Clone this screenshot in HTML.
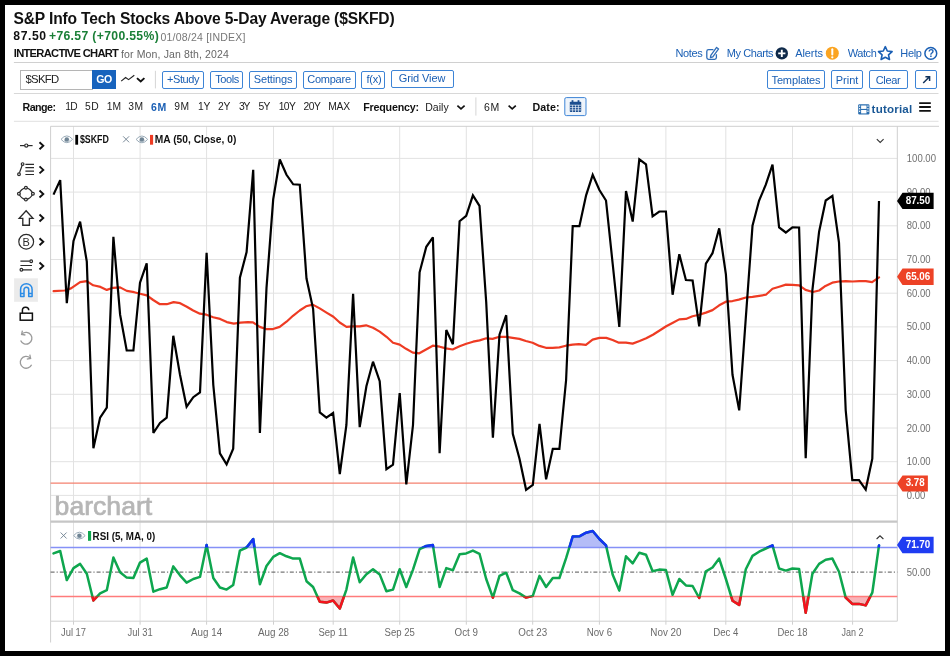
<!DOCTYPE html>
<html><head><meta charset="utf-8"><title>S&amp;P Info Tech Stocks Above 5-Day Average ($SKFD)</title>
<style>
html,body{margin:0;padding:0;background:#000;}
body{width:950px;height:656px;position:relative;overflow:hidden;font-family:"Liberation Sans",sans-serif;}
#page{position:absolute;left:5px;top:5px;width:940px;height:646px;background:#fff;}
.t{position:absolute;white-space:nowrap;line-height:1;will-change:transform;}
.btn{position:absolute;border:1px solid #3d84d6;border-radius:2px;background:#fff;}
#symbox{position:absolute;left:20.2px;top:70.2px;width:71px;height:17.6px;border:1px solid #b5b5b5;background:#fff;}
#gobtn{position:absolute;left:91.7px;top:70.2px;width:24.6px;height:18.8px;background:#1763bd;}
svg{position:absolute;left:0;top:0;will-change:transform;}
svg text{font-family:"Liberation Sans",sans-serif;}
</style></head>
<body>
<div id="page"></div>
<div id="symbox"></div><div id="gobtn"></div>
<div class="btn" style="left:161.6px;top:70.6px;width:40.4px;height:16.0px"></div>
<div class="btn" style="left:209.8px;top:70.6px;width:31.5px;height:16.0px"></div>
<div class="btn" style="left:249.4px;top:70.6px;width:45.6px;height:16.0px"></div>
<div class="btn" style="left:302.5px;top:70.6px;width:51.1px;height:16.0px"></div>
<div class="btn" style="left:361.3px;top:70.6px;width:22.1px;height:16.0px"></div>
<div class="btn" style="left:390.9px;top:70.1px;width:60.7px;height:16.2px"></div>
<div class="btn" style="left:766.8px;top:70.1px;width:56.6px;height:16.9px"></div>
<div class="btn" style="left:830.9px;top:70.1px;width:30.1px;height:16.9px"></div>
<div class="btn" style="left:868.5px;top:70.1px;width:37.7px;height:16.9px"></div>
<div class="btn" style="left:914.9px;top:70.1px;width:20.0px;height:16.9px"></div>
<svg width="950" height="656" viewBox="0 0 950 656">
<line x1="50.6" x2="897.3" y1="158.4" y2="158.4" stroke="#e2e2e2" stroke-width="1"/>
<line x1="50.6" x2="897.3" y1="192.1" y2="192.1" stroke="#e2e2e2" stroke-width="1"/>
<line x1="50.6" x2="897.3" y1="225.8" y2="225.8" stroke="#e2e2e2" stroke-width="1"/>
<line x1="50.6" x2="897.3" y1="259.5" y2="259.5" stroke="#e2e2e2" stroke-width="1"/>
<line x1="50.6" x2="897.3" y1="293.2" y2="293.2" stroke="#e2e2e2" stroke-width="1"/>
<line x1="50.6" x2="897.3" y1="326.9" y2="326.9" stroke="#e2e2e2" stroke-width="1"/>
<line x1="50.6" x2="897.3" y1="360.6" y2="360.6" stroke="#e2e2e2" stroke-width="1"/>
<line x1="50.6" x2="897.3" y1="394.3" y2="394.3" stroke="#e2e2e2" stroke-width="1"/>
<line x1="50.6" x2="897.3" y1="428.0" y2="428.0" stroke="#e2e2e2" stroke-width="1"/>
<line x1="50.6" x2="897.3" y1="461.7" y2="461.7" stroke="#e2e2e2" stroke-width="1"/>
<line x1="50.6" x2="897.3" y1="495.4" y2="495.4" stroke="#e2e2e2" stroke-width="1"/>
<line x1="73.5" x2="73.5" y1="126.3" y2="621.2" stroke="#e2e2e2" stroke-width="1"/>
<line x1="73.5" x2="73.5" y1="621.2" y2="624.7" stroke="#cfcfcf" stroke-width="1"/>
<line x1="140.1" x2="140.1" y1="126.3" y2="621.2" stroke="#e2e2e2" stroke-width="1"/>
<line x1="140.1" x2="140.1" y1="621.2" y2="624.7" stroke="#cfcfcf" stroke-width="1"/>
<line x1="206.6" x2="206.6" y1="126.3" y2="621.2" stroke="#e2e2e2" stroke-width="1"/>
<line x1="206.6" x2="206.6" y1="621.2" y2="624.7" stroke="#cfcfcf" stroke-width="1"/>
<line x1="273.5" x2="273.5" y1="126.3" y2="621.2" stroke="#e2e2e2" stroke-width="1"/>
<line x1="273.5" x2="273.5" y1="621.2" y2="624.7" stroke="#cfcfcf" stroke-width="1"/>
<line x1="333.2" x2="333.2" y1="126.3" y2="621.2" stroke="#e2e2e2" stroke-width="1"/>
<line x1="333.2" x2="333.2" y1="621.2" y2="624.7" stroke="#cfcfcf" stroke-width="1"/>
<line x1="399.7" x2="399.7" y1="126.3" y2="621.2" stroke="#e2e2e2" stroke-width="1"/>
<line x1="399.7" x2="399.7" y1="621.2" y2="624.7" stroke="#cfcfcf" stroke-width="1"/>
<line x1="466.3" x2="466.3" y1="126.3" y2="621.2" stroke="#e2e2e2" stroke-width="1"/>
<line x1="466.3" x2="466.3" y1="621.2" y2="624.7" stroke="#cfcfcf" stroke-width="1"/>
<line x1="532.7" x2="532.7" y1="126.3" y2="621.2" stroke="#e2e2e2" stroke-width="1"/>
<line x1="532.7" x2="532.7" y1="621.2" y2="624.7" stroke="#cfcfcf" stroke-width="1"/>
<line x1="599.4" x2="599.4" y1="126.3" y2="621.2" stroke="#e2e2e2" stroke-width="1"/>
<line x1="599.4" x2="599.4" y1="621.2" y2="624.7" stroke="#cfcfcf" stroke-width="1"/>
<line x1="665.9" x2="665.9" y1="126.3" y2="621.2" stroke="#e2e2e2" stroke-width="1"/>
<line x1="665.9" x2="665.9" y1="621.2" y2="624.7" stroke="#cfcfcf" stroke-width="1"/>
<line x1="725.8" x2="725.8" y1="126.3" y2="621.2" stroke="#e2e2e2" stroke-width="1"/>
<line x1="725.8" x2="725.8" y1="621.2" y2="624.7" stroke="#cfcfcf" stroke-width="1"/>
<line x1="792.5" x2="792.5" y1="126.3" y2="621.2" stroke="#e2e2e2" stroke-width="1"/>
<line x1="792.5" x2="792.5" y1="621.2" y2="624.7" stroke="#cfcfcf" stroke-width="1"/>
<line x1="852.6" x2="852.6" y1="126.3" y2="621.2" stroke="#e2e2e2" stroke-width="1"/>
<line x1="852.6" x2="852.6" y1="621.2" y2="624.7" stroke="#cfcfcf" stroke-width="1"/>
<line x1="50.6" x2="939" y1="126.3" y2="126.3" stroke="#cfcfcf" stroke-width="1"/>
<line x1="50.6" x2="50.6" y1="126.3" y2="642.5" stroke="#cfcfcf" stroke-width="1"/>
<line x1="897.3" x2="897.3" y1="126.3" y2="621.2" stroke="#cfcfcf" stroke-width="1"/>
<line x1="50.6" x2="897.3" y1="521.7" y2="521.7" stroke="#c6c6c6" stroke-width="2.2"/>
<line x1="50.6" x2="897.3" y1="621.2" y2="621.2" stroke="#cfcfcf" stroke-width="1"/>
<text x="54.6" y="514.6" font-size="25.5" font-weight="400" fill="#b6b6b6" stroke="#b6b6b6" stroke-width="0.7" textLength="97.6" lengthAdjust="spacingAndGlyphs">barchart</text>
<line x1="50.6" x2="897.3" y1="483.1" y2="483.1" stroke="#f4816f" stroke-width="1.3"/>
<polyline fill="none" stroke="#ee3b23" stroke-width="2.2" stroke-linejoin="round" stroke-linecap="round" points="53.6,291.2 64.7,290.5 71,288.4 80.1,282.1 86.8,281.05 93.2,285.3 100.5,286.9 106.8,289.9 113.2,287.8 120.1,287.4 126.8,290.9 134.2,292.2 140.1,293.7 146.8,295.4 153.2,300 159.9,304.2 166.8,304.2 173.6,302.1 180.1,303.2 186.8,306.7 193.2,310.5 199.9,313.7 206.4,314.7 213.2,317.3 220.1,318.9 226.8,322.1 233.8,323.6 240.5,322.7 247.9,322.1 253,322.3 259.7,326.9 266.05,329.05 273,329.05 279.7,326.9 286.5,321.7 293,315.8 299.7,310.5 306.05,306.3 312.8,304.6 319.7,308.4 326.5,312.6 333.4,316.8 339.7,322.5 346.5,326.9 353,326.3 359.7,326.3 366.05,325.3 373,327.8 379.7,331.6 386.5,336.8 393,342.7 399.7,344.6 406.05,348.8 412.8,352.6 419.3,353.3 426.05,349.5 432.8,345.7 439.7,346.7 445.9,348.4 452.6,349.5 459.6,346.3 466.3,343.8 473.05,341.7 479.6,340.4 486.3,338.3 492.6,338.9 499.4,336.8 505.9,336.8 512.6,337.9 519.4,338.9 525.9,341.05 532.6,342.7 539.4,345.9 545.9,347.8 552.6,347.8 559.4,347.4 565.9,345.7 572.6,344.6 578.9,344.2 585.9,344.8 592.6,339.6 599.4,337.9 606.3,337.9 612.6,340 618.9,342.7 625.9,342.7 632.6,343.6 639.6,341.05 646.2,338.3 652.9,334.7 659.6,330.5 666.2,326.3 672.9,322.7 679.2,319.4 685.9,318.9 692.5,316.2 699.2,314.7 705.9,312.6 712.5,310.1 719.2,305.3 725.9,301.7 732.5,301.05 738.8,299.6 745.9,297.5 752.5,296.8 759.2,295.8 765.9,294.7 772.5,288.8 779.2,286.7 785.9,284.6 792.5,284.8 799.2,285.3 805.5,289.9 812.9,292 819.2,290.5 825.5,285.9 832.3,282.7 838.8,281.5 845.8,281.05 852.5,281.5 859.5,281.05 865.8,281.05 872.1,282.1 879.05,277.3"/>
<polyline fill="none" stroke="#000" stroke-width="2.2" stroke-linejoin="miter" stroke-miterlimit="3" points="53.5,194.6 60.2,180.1 66.8,303.2 73.5,240.9 80.1,221.6 86.8,261.6 93.4,448.2 100.1,417.6 106.8,407.7 113.4,236.9 120.1,314.7 126.7,350.5 133.4,350.5 140.0,282.7 146.7,263.4 153.4,433.0 160.0,422.9 166.7,417.6 173.3,335.8 180.0,374.7 186.6,406.7 193.3,397.2 200.0,392.3 206.6,252.7 213.3,385.0 219.9,453.4 226.6,464.4 233.2,448.8 239.9,277.7 246.6,252.1 253.2,169.8 259.9,433.0 266.5,288.0 273.2,199.4 279.8,159.5 286.5,174.8 293.2,184.3 299.8,184.7 306.5,278.5 313.1,308.8 319.8,412.4 326.4,417.6 333.1,413.0 339.8,474.1 346.4,425.0 353.1,293.7 359.7,427.1 366.4,386.3 373.0,361.7 379.7,381.1 386.4,469.2 393.0,464.6 399.7,393.0 406.3,484.4 413.0,425.0 419.6,272.3 426.3,246.8 432.9,237.4 439.6,453.2 446.3,330.0 452.9,344.2 459.6,221.2 466.2,215.9 472.9,195.3 479.5,205.8 486.2,302.0 492.9,437.6 499.5,334.7 506.2,315.2 512.8,433.8 519.5,458.7 526.1,489.8 532.8,485.0 539.5,423.9 546.1,479.3 552.8,448.8 559.4,448.8 566.1,380.0 572.7,226.2 579.4,226.2 586.1,195.3 592.7,174.8 599.4,190.0 606.0,200.5 612.7,264.0 619.3,326.9 626.0,191.1 632.7,221.6 639.3,159.3 646.0,164.3 652.6,216.3 659.3,211.5 665.9,211.5 672.6,294.7 679.3,254.2 685.9,280.0 692.6,280.5 699.2,326.3 705.9,263.7 712.5,253.2 719.2,228.3 725.9,274.4 732.5,374.8 739.2,410.4 745.8,318.0 752.5,225.8 759.1,200.5 765.8,184.7 772.5,164.7 779.1,227.5 785.8,232.5 792.4,227.3 799.1,227.5 805.7,458.1 812.4,290.0 819.1,231.7 825.7,200.5 832.4,195.9 839.0,242.6 845.7,410.3 852.3,480.2 859.0,480.2 865.7,489.6 872.3,458.7 879.0,201.0"/>
<clipPath id="cu"><rect x="50.6" y="522.8" width="846.6999999999999" height="24.700000000000045"/></clipPath>
<clipPath id="cd"><rect x="50.6" y="596.5" width="846.6999999999999" height="24.700000000000045"/></clipPath>
<line x1="50.6" x2="897.3" y1="572.1" y2="572.1" stroke="#555" stroke-width="1" stroke-dasharray="4 2 1.2 2"/>
<polygon clip-path="url(#cu)" fill="#b4bcf7" points="53.5,547.5 53.5,553.4 60.2,551.0 66.8,580.1 73.5,568.1 80.1,563.9 86.8,573.8 93.4,600.5 100.1,593.4 106.8,590.2 113.4,557.4 120.1,572.3 126.7,577.6 133.4,578.0 140.0,562.6 146.7,558.6 153.4,591.7 160.0,589.2 166.7,587.5 173.3,566.4 180.0,575.3 186.6,582.6 193.3,579.0 200.0,576.9 206.6,544.9 213.3,578.0 219.9,587.5 226.6,589.6 233.2,584.9 239.9,550.6 246.6,547.5 253.2,539.0 259.9,584.3 266.5,566.0 273.2,556.9 279.8,553.2 286.5,556.3 293.2,558.6 299.8,558.6 306.5,581.2 313.1,587.0 319.8,601.8 326.4,602.6 333.1,600.5 339.8,608.5 346.4,589.6 353.1,557.4 359.7,582.2 366.4,574.2 373.0,569.2 379.7,574.4 386.4,591.3 393.0,589.6 399.7,569.2 406.3,587.0 413.0,569.6 419.6,549.2 426.3,546.0 432.9,545.1 439.6,587.0 446.3,568.1 452.9,570.2 459.6,554.2 466.2,553.4 472.9,550.6 479.5,553.8 486.2,579.0 492.9,597.6 499.5,575.9 506.2,572.7 512.8,590.2 519.5,593.4 526.1,597.6 532.8,595.9 539.5,575.9 546.1,587.0 552.8,578.0 559.4,578.0 566.1,558.2 572.7,536.5 579.4,536.3 586.1,532.7 592.7,531.0 599.4,539.0 606.0,545.4 612.7,574.8 619.3,590.6 626.0,556.3 632.7,563.3 639.3,552.7 646.0,554.8 652.6,571.3 659.3,569.6 665.9,570.0 672.6,594.8 679.3,579.0 685.9,585.4 692.6,586.0 699.2,598.0 705.9,571.3 712.5,567.5 719.2,558.6 725.9,579.0 732.5,600.7 739.2,604.9 745.8,569.2 752.5,555.9 759.1,551.7 765.8,548.5 772.5,545.4 779.1,568.5 785.8,570.6 792.4,568.5 799.1,568.9 805.7,612.7 812.4,573.8 819.1,563.9 825.7,559.7 832.4,558.6 839.0,571.7 845.7,597.6 852.3,603.9 859.0,603.9 865.7,605.4 872.3,592.7 879.0,545.4 879.0,547.5"/>
<polygon clip-path="url(#cd)" fill="#f9b3b8" points="53.5,596.5 53.5,553.4 60.2,551.0 66.8,580.1 73.5,568.1 80.1,563.9 86.8,573.8 93.4,600.5 100.1,593.4 106.8,590.2 113.4,557.4 120.1,572.3 126.7,577.6 133.4,578.0 140.0,562.6 146.7,558.6 153.4,591.7 160.0,589.2 166.7,587.5 173.3,566.4 180.0,575.3 186.6,582.6 193.3,579.0 200.0,576.9 206.6,544.9 213.3,578.0 219.9,587.5 226.6,589.6 233.2,584.9 239.9,550.6 246.6,547.5 253.2,539.0 259.9,584.3 266.5,566.0 273.2,556.9 279.8,553.2 286.5,556.3 293.2,558.6 299.8,558.6 306.5,581.2 313.1,587.0 319.8,601.8 326.4,602.6 333.1,600.5 339.8,608.5 346.4,589.6 353.1,557.4 359.7,582.2 366.4,574.2 373.0,569.2 379.7,574.4 386.4,591.3 393.0,589.6 399.7,569.2 406.3,587.0 413.0,569.6 419.6,549.2 426.3,546.0 432.9,545.1 439.6,587.0 446.3,568.1 452.9,570.2 459.6,554.2 466.2,553.4 472.9,550.6 479.5,553.8 486.2,579.0 492.9,597.6 499.5,575.9 506.2,572.7 512.8,590.2 519.5,593.4 526.1,597.6 532.8,595.9 539.5,575.9 546.1,587.0 552.8,578.0 559.4,578.0 566.1,558.2 572.7,536.5 579.4,536.3 586.1,532.7 592.7,531.0 599.4,539.0 606.0,545.4 612.7,574.8 619.3,590.6 626.0,556.3 632.7,563.3 639.3,552.7 646.0,554.8 652.6,571.3 659.3,569.6 665.9,570.0 672.6,594.8 679.3,579.0 685.9,585.4 692.6,586.0 699.2,598.0 705.9,571.3 712.5,567.5 719.2,558.6 725.9,579.0 732.5,600.7 739.2,604.9 745.8,569.2 752.5,555.9 759.1,551.7 765.8,548.5 772.5,545.4 779.1,568.5 785.8,570.6 792.4,568.5 799.1,568.9 805.7,612.7 812.4,573.8 819.1,563.9 825.7,559.7 832.4,558.6 839.0,571.7 845.7,597.6 852.3,603.9 859.0,603.9 865.7,605.4 872.3,592.7 879.0,545.4 879.0,596.5"/>
<line x1="50.6" x2="897.3" y1="547.5" y2="547.5" stroke="#8591f7" stroke-width="1.4"/>
<line x1="50.6" x2="897.3" y1="596.5" y2="596.5" stroke="#ff7b7b" stroke-width="1.4"/>
<polyline fill="none" stroke="#0ea64e" stroke-width="2.5" stroke-linejoin="round" stroke-linecap="round" points="53.5,553.4 60.2,551.0 66.8,580.1 73.5,568.1 80.1,563.9 86.8,573.8 93.4,600.5 100.1,593.4 106.8,590.2 113.4,557.4 120.1,572.3 126.7,577.6 133.4,578.0 140.0,562.6 146.7,558.6 153.4,591.7 160.0,589.2 166.7,587.5 173.3,566.4 180.0,575.3 186.6,582.6 193.3,579.0 200.0,576.9 206.6,544.9 213.3,578.0 219.9,587.5 226.6,589.6 233.2,584.9 239.9,550.6 246.6,547.5 253.2,539.0 259.9,584.3 266.5,566.0 273.2,556.9 279.8,553.2 286.5,556.3 293.2,558.6 299.8,558.6 306.5,581.2 313.1,587.0 319.8,601.8 326.4,602.6 333.1,600.5 339.8,608.5 346.4,589.6 353.1,557.4 359.7,582.2 366.4,574.2 373.0,569.2 379.7,574.4 386.4,591.3 393.0,589.6 399.7,569.2 406.3,587.0 413.0,569.6 419.6,549.2 426.3,546.0 432.9,545.1 439.6,587.0 446.3,568.1 452.9,570.2 459.6,554.2 466.2,553.4 472.9,550.6 479.5,553.8 486.2,579.0 492.9,597.6 499.5,575.9 506.2,572.7 512.8,590.2 519.5,593.4 526.1,597.6 532.8,595.9 539.5,575.9 546.1,587.0 552.8,578.0 559.4,578.0 566.1,558.2 572.7,536.5 579.4,536.3 586.1,532.7 592.7,531.0 599.4,539.0 606.0,545.4 612.7,574.8 619.3,590.6 626.0,556.3 632.7,563.3 639.3,552.7 646.0,554.8 652.6,571.3 659.3,569.6 665.9,570.0 672.6,594.8 679.3,579.0 685.9,585.4 692.6,586.0 699.2,598.0 705.9,571.3 712.5,567.5 719.2,558.6 725.9,579.0 732.5,600.7 739.2,604.9 745.8,569.2 752.5,555.9 759.1,551.7 765.8,548.5 772.5,545.4 779.1,568.5 785.8,570.6 792.4,568.5 799.1,568.9 805.7,612.7 812.4,573.8 819.1,563.9 825.7,559.7 832.4,558.6 839.0,571.7 845.7,597.6 852.3,603.9 859.0,603.9 865.7,605.4 872.3,592.7 879.0,545.4"/>
<polyline clip-path="url(#cu)" fill="none" stroke="#1432f5" stroke-width="2.5" stroke-linejoin="round" stroke-linecap="round" points="53.5,553.4 60.2,551.0 66.8,580.1 73.5,568.1 80.1,563.9 86.8,573.8 93.4,600.5 100.1,593.4 106.8,590.2 113.4,557.4 120.1,572.3 126.7,577.6 133.4,578.0 140.0,562.6 146.7,558.6 153.4,591.7 160.0,589.2 166.7,587.5 173.3,566.4 180.0,575.3 186.6,582.6 193.3,579.0 200.0,576.9 206.6,544.9 213.3,578.0 219.9,587.5 226.6,589.6 233.2,584.9 239.9,550.6 246.6,547.5 253.2,539.0 259.9,584.3 266.5,566.0 273.2,556.9 279.8,553.2 286.5,556.3 293.2,558.6 299.8,558.6 306.5,581.2 313.1,587.0 319.8,601.8 326.4,602.6 333.1,600.5 339.8,608.5 346.4,589.6 353.1,557.4 359.7,582.2 366.4,574.2 373.0,569.2 379.7,574.4 386.4,591.3 393.0,589.6 399.7,569.2 406.3,587.0 413.0,569.6 419.6,549.2 426.3,546.0 432.9,545.1 439.6,587.0 446.3,568.1 452.9,570.2 459.6,554.2 466.2,553.4 472.9,550.6 479.5,553.8 486.2,579.0 492.9,597.6 499.5,575.9 506.2,572.7 512.8,590.2 519.5,593.4 526.1,597.6 532.8,595.9 539.5,575.9 546.1,587.0 552.8,578.0 559.4,578.0 566.1,558.2 572.7,536.5 579.4,536.3 586.1,532.7 592.7,531.0 599.4,539.0 606.0,545.4 612.7,574.8 619.3,590.6 626.0,556.3 632.7,563.3 639.3,552.7 646.0,554.8 652.6,571.3 659.3,569.6 665.9,570.0 672.6,594.8 679.3,579.0 685.9,585.4 692.6,586.0 699.2,598.0 705.9,571.3 712.5,567.5 719.2,558.6 725.9,579.0 732.5,600.7 739.2,604.9 745.8,569.2 752.5,555.9 759.1,551.7 765.8,548.5 772.5,545.4 779.1,568.5 785.8,570.6 792.4,568.5 799.1,568.9 805.7,612.7 812.4,573.8 819.1,563.9 825.7,559.7 832.4,558.6 839.0,571.7 845.7,597.6 852.3,603.9 859.0,603.9 865.7,605.4 872.3,592.7 879.0,545.4"/>
<polyline clip-path="url(#cd)" fill="none" stroke="#f5121d" stroke-width="2.5" stroke-linejoin="round" stroke-linecap="round" points="53.5,553.4 60.2,551.0 66.8,580.1 73.5,568.1 80.1,563.9 86.8,573.8 93.4,600.5 100.1,593.4 106.8,590.2 113.4,557.4 120.1,572.3 126.7,577.6 133.4,578.0 140.0,562.6 146.7,558.6 153.4,591.7 160.0,589.2 166.7,587.5 173.3,566.4 180.0,575.3 186.6,582.6 193.3,579.0 200.0,576.9 206.6,544.9 213.3,578.0 219.9,587.5 226.6,589.6 233.2,584.9 239.9,550.6 246.6,547.5 253.2,539.0 259.9,584.3 266.5,566.0 273.2,556.9 279.8,553.2 286.5,556.3 293.2,558.6 299.8,558.6 306.5,581.2 313.1,587.0 319.8,601.8 326.4,602.6 333.1,600.5 339.8,608.5 346.4,589.6 353.1,557.4 359.7,582.2 366.4,574.2 373.0,569.2 379.7,574.4 386.4,591.3 393.0,589.6 399.7,569.2 406.3,587.0 413.0,569.6 419.6,549.2 426.3,546.0 432.9,545.1 439.6,587.0 446.3,568.1 452.9,570.2 459.6,554.2 466.2,553.4 472.9,550.6 479.5,553.8 486.2,579.0 492.9,597.6 499.5,575.9 506.2,572.7 512.8,590.2 519.5,593.4 526.1,597.6 532.8,595.9 539.5,575.9 546.1,587.0 552.8,578.0 559.4,578.0 566.1,558.2 572.7,536.5 579.4,536.3 586.1,532.7 592.7,531.0 599.4,539.0 606.0,545.4 612.7,574.8 619.3,590.6 626.0,556.3 632.7,563.3 639.3,552.7 646.0,554.8 652.6,571.3 659.3,569.6 665.9,570.0 672.6,594.8 679.3,579.0 685.9,585.4 692.6,586.0 699.2,598.0 705.9,571.3 712.5,567.5 719.2,558.6 725.9,579.0 732.5,600.7 739.2,604.9 745.8,569.2 752.5,555.9 759.1,551.7 765.8,548.5 772.5,545.4 779.1,568.5 785.8,570.6 792.4,568.5 799.1,568.9 805.7,612.7 812.4,573.8 819.1,563.9 825.7,559.7 832.4,558.6 839.0,571.7 845.7,597.6 852.3,603.9 859.0,603.9 865.7,605.4 872.3,592.7 879.0,545.4"/>
<text x="906.8" y="161.9" font-size="10.3" fill="#6f6f6f" textLength="29.2" lengthAdjust="spacingAndGlyphs">100.00</text>
<text x="906.8" y="195.6" font-size="10.3" fill="#6f6f6f" textLength="23.8" lengthAdjust="spacingAndGlyphs">90.00</text>
<text x="906.8" y="229.3" font-size="10.3" fill="#6f6f6f" textLength="23.8" lengthAdjust="spacingAndGlyphs">80.00</text>
<text x="906.8" y="263.0" font-size="10.3" fill="#6f6f6f" textLength="23.8" lengthAdjust="spacingAndGlyphs">70.00</text>
<text x="906.8" y="296.7" font-size="10.3" fill="#6f6f6f" textLength="23.8" lengthAdjust="spacingAndGlyphs">60.00</text>
<text x="906.8" y="330.4" font-size="10.3" fill="#6f6f6f" textLength="23.8" lengthAdjust="spacingAndGlyphs">50.00</text>
<text x="906.8" y="364.1" font-size="10.3" fill="#6f6f6f" textLength="23.8" lengthAdjust="spacingAndGlyphs">40.00</text>
<text x="906.8" y="397.8" font-size="10.3" fill="#6f6f6f" textLength="23.8" lengthAdjust="spacingAndGlyphs">30.00</text>
<text x="906.8" y="431.5" font-size="10.3" fill="#6f6f6f" textLength="23.8" lengthAdjust="spacingAndGlyphs">20.00</text>
<text x="906.8" y="465.2" font-size="10.3" fill="#6f6f6f" textLength="23.8" lengthAdjust="spacingAndGlyphs">10.00</text>
<text x="906.8" y="498.9" font-size="10.3" fill="#6f6f6f" textLength="18.4" lengthAdjust="spacingAndGlyphs">0.00</text>
<text x="906.8" y="575.6" font-size="10.3" fill="#6f6f6f" textLength="23.8" lengthAdjust="spacingAndGlyphs">50.00</text>
<path d="M897.0,200.9 L902.5,192.8 L933.6,192.8 L933.6,209.0 L902.5,209.0 Z" fill="#000"/>
<text x="905.6999999999999" y="203.7" font-size="10.2" font-weight="700" fill="#fff" textLength="24.6" lengthAdjust="spacingAndGlyphs">87.50</text>
<path d="M897.0,276.7 L902.5,268.4 L933.6,268.4 L933.6,285.0 L902.5,285.0 Z" fill="#ed4226"/>
<text x="905.6999999999999" y="279.5" font-size="10.2" font-weight="700" fill="#fff" textLength="24.6" lengthAdjust="spacingAndGlyphs">65.06</text>
<path d="M897.0,483.4 L902.5,475.4 L927.9,475.4 L927.9,491.4 L902.5,491.4 Z" fill="#ed4226"/>
<text x="905.6999999999999" y="486.2" font-size="10.2" font-weight="700" fill="#fff" textLength="19.0" lengthAdjust="spacingAndGlyphs">3.78</text>
<path d="M897.0,545 L902.5,536.8 L933.6,536.8 L933.6,553.2 L902.5,553.2 Z" fill="#1f3cf2"/>
<text x="905.6999999999999" y="547.8" font-size="10.2" font-weight="700" fill="#fff" textLength="24.6" lengthAdjust="spacingAndGlyphs">71.70</text>
<text x="61.0" y="636.2" font-size="10" fill="#6b6b6b" textLength="25" lengthAdjust="spacingAndGlyphs">Jul 17</text>
<text x="127.6" y="636.2" font-size="10" fill="#6b6b6b" textLength="25" lengthAdjust="spacingAndGlyphs">Jul 31</text>
<text x="191.1" y="636.2" font-size="10" fill="#6b6b6b" textLength="31" lengthAdjust="spacingAndGlyphs">Aug 14</text>
<text x="257.9" y="636.2" font-size="10" fill="#6b6b6b" textLength="31.2" lengthAdjust="spacingAndGlyphs">Aug 28</text>
<text x="318.5" y="636.2" font-size="10" fill="#6b6b6b" textLength="29.4" lengthAdjust="spacingAndGlyphs">Sep 11</text>
<text x="384.6" y="636.2" font-size="10" fill="#6b6b6b" textLength="30.2" lengthAdjust="spacingAndGlyphs">Sep 25</text>
<text x="454.6" y="636.2" font-size="10" fill="#6b6b6b" textLength="23.4" lengthAdjust="spacingAndGlyphs">Oct 9</text>
<text x="518.3" y="636.2" font-size="10" fill="#6b6b6b" textLength="28.8" lengthAdjust="spacingAndGlyphs">Oct 23</text>
<text x="586.7" y="636.2" font-size="10" fill="#6b6b6b" textLength="25.4" lengthAdjust="spacingAndGlyphs">Nov 6</text>
<text x="650.3" y="636.2" font-size="10" fill="#6b6b6b" textLength="31.2" lengthAdjust="spacingAndGlyphs">Nov 20</text>
<text x="713.2" y="636.2" font-size="10" fill="#6b6b6b" textLength="25.2" lengthAdjust="spacingAndGlyphs">Dec 4</text>
<text x="777.5" y="636.2" font-size="10" fill="#6b6b6b" textLength="30" lengthAdjust="spacingAndGlyphs">Dec 18</text>
<text x="841.6" y="636.2" font-size="10" fill="#6b6b6b" textLength="22" lengthAdjust="spacingAndGlyphs">Jan 2</text>
<g><path d="M61.0,139.3 Q66.8,132.5 72.6,139.3 Q66.8,146.10000000000002 61.0,139.3Z" stroke="#9aabb8" fill="none" stroke-width="1"/><circle cx="66.8" cy="139.4" r="2.25" fill="#6f8494"/><path d="M64.2,140.20000000000002 A2.9,2.9 0 0 0 69.5,139.9" stroke="#9aabb8" fill="none" stroke-width="0.7"/></g>
<rect x="75.3" y="134.9" width="2.8" height="9.8" fill="#000"/>
<text x="79.9" y="143.3" font-size="10.6" font-weight="700" fill="#111" textLength="29" lengthAdjust="spacingAndGlyphs">$SKFD</text>
<path d="M123.1,136.3 L129.1,142.3 M129.1,136.3 L123.1,142.3" stroke="#6d7f8f" stroke-width="0.9" fill="none"/>
<g><path d="M136.1,139.4 Q141.9,132.6 147.70000000000002,139.4 Q141.9,146.20000000000002 136.1,139.4Z" stroke="#9aabb8" fill="none" stroke-width="1"/><circle cx="141.9" cy="139.5" r="2.25" fill="#6f8494"/><path d="M139.3,140.3 A2.9,2.9 0 0 0 144.6,140.0" stroke="#9aabb8" fill="none" stroke-width="0.7"/></g>
<rect x="150" y="134.9" width="3.1" height="9.8" fill="#ee3b23"/>
<text x="154.8" y="143.3" font-size="10.6" font-weight="700" fill="#111" textLength="81.5" lengthAdjust="spacingAndGlyphs">MA (50, Close, 0)</text>
<path d="M60.6,532.5 L66.6,538.5 M66.6,532.5 L60.6,538.5" stroke="#6d7f8f" stroke-width="0.9" fill="none"/>
<g><path d="M73.60000000000001,535.6 Q79.4,528.8000000000001 85.2,535.6 Q79.4,542.4 73.60000000000001,535.6Z" stroke="#9aabb8" fill="none" stroke-width="1"/><circle cx="79.4" cy="535.7" r="2.25" fill="#6f8494"/><path d="M76.80000000000001,536.5 A2.9,2.9 0 0 0 82.10000000000001,536.2" stroke="#9aabb8" fill="none" stroke-width="0.7"/></g>
<rect x="88" y="531" width="3.1" height="9.8" fill="#0ea64e"/>
<text x="92.6" y="539.6" font-size="10.6" font-weight="700" fill="#111" textLength="62.6" lengthAdjust="spacingAndGlyphs">RSI (5, MA, 0)</text>
<path d="M876.8,139.2 L880.2,142.4 L883.6,139.2" stroke="#333" stroke-width="1.1" fill="none"/>
<path d="M876.6,539 L880,535.8 L883.4,539" stroke="#333" stroke-width="1.1" fill="none"/>
<g stroke="#2b2b2b" stroke-width="1.2" fill="#fff"><path d="M20,145.6 H32.6"/><circle cx="26.3" cy="145.6" r="1.6"/></g>
<path d="M39.5,142.3 L43.3,145.8 L39.5,149.3" stroke="#111" stroke-width="1.9" fill="none" stroke-linejoin="miter"/>
<g stroke="#2b2b2b" stroke-width="1.2" fill="none"><path d="M19.4,173 L22.2,165.2"/><circle cx="19" cy="174.2" r="1.35" fill="#fff"/><circle cx="22.6" cy="164.1" r="1.35" fill="#fff"/><path d="M25.4,164.3 H34 M25.4,167.7 H34 M25.4,171.1 H34 M25.4,174.5 H34"/></g>
<path d="M39.5,166.4 L43.3,169.9 L39.5,173.4" stroke="#111" stroke-width="1.9" fill="none" stroke-linejoin="miter"/>
<g stroke="#2b2b2b" stroke-width="1.2" fill="none"><path d="M18.9,193.7 Q21,189 25.9,187.7 Q30.8,189 32.9,193.7 Q30.8,198.4 25.9,199.7 Q21,198.4 18.9,193.7 Z"/><g fill="#fff"><circle cx="18.9" cy="193.7" r="1.4"/><circle cx="32.9" cy="193.7" r="1.4"/><circle cx="25.9" cy="187.8" r="1.4"/><circle cx="25.9" cy="199.6" r="1.4"/></g></g>
<path d="M39.5,190.5 L43.3,194 L39.5,197.5" stroke="#111" stroke-width="1.9" fill="none" stroke-linejoin="miter"/>
<path d="M26.1,210.8 L33,218.4 L29.4,218.4 L29.4,225.2 L22.8,225.2 L22.8,218.4 L19.2,218.4 Z" stroke="#2b2b2b" stroke-width="1.35" fill="none" stroke-linejoin="miter"/>
<path d="M39.5,214.5 L43.3,218 L39.5,221.5" stroke="#111" stroke-width="1.9" fill="none" stroke-linejoin="miter"/>
<circle cx="26.2" cy="241.7" r="7.4" stroke="#2b2b2b" stroke-width="1.2" fill="none"/><text x="22.5" y="245.6" font-size="11" fill="#2b2b2b">B</text>
<path d="M39.5,238.3 L43.3,241.8 L39.5,245.3" stroke="#111" stroke-width="1.9" fill="none" stroke-linejoin="miter"/>
<g stroke="#2b2b2b" stroke-width="1.2" fill="none"><path d="M20.4,261.2 H29.8 M20.4,265.5 H32 M22.8,269.8 H32"/><circle cx="31.2" cy="261.2" r="1.35" fill="#fff"/><circle cx="21.4" cy="269.8" r="1.35" fill="#fff"/></g>
<path d="M39.5,262.5 L43.3,266 L39.5,269.5" stroke="#111" stroke-width="1.9" fill="none" stroke-linejoin="miter"/>
<rect x="14.1" y="278.3" width="23.8" height="23.5" fill="#ebebeb"/>
<path d="M20.6,296.6 V289.4 A5.75,5.75 0 0 1 32.1,289.4 V296.6 H28.7 V289.6 A2.35,2.35 0 0 0 24,289.6 V296.6 Z M20.6,293.6 H24 M28.7,293.6 H32.1" stroke="#2a8be6" stroke-width="1.5" fill="none" stroke-linejoin="round"/>
<g stroke="#111" stroke-width="1.5" fill="none"><rect x="20.2" y="313.2" width="12.2" height="7"/><path d="M22.4,313 V310.6 A3.2,3.2 0 0 1 28.8,310.2"/></g>
<g stroke="#9a9a9a" stroke-width="1.3" fill="none"><path d="M22.1,333.8 A5.9,5.9 0 1 1 20.6,340.6"/><path d="M22.4,330.6 L21.6,334.4 L25.4,335"/></g>
<g stroke="#9a9a9a" stroke-width="1.3" fill="none"><path d="M30.1,357.9 A5.9,5.9 0 1 0 31.6,364.7"/><path d="M29.8,354.7 L30.6,358.5 L26.8,359.1"/></g>
<path d="M121.2,81.1 L125.6,77.5 L128.6,79.6 L134.3,75.2" stroke="#222" stroke-width="1.15" fill="none"/>
<path d="M137.0,78.1 L140.7,81.5 L144.39999999999998,78.1" stroke="#111" stroke-width="1.9" fill="none"/>
<path d="M457.4,105.60000000000001 L461,108.8 L464.6,105.60000000000001" stroke="#111" stroke-width="1.7" fill="none"/>
<path d="M508.6,105.60000000000001 L512.2,108.8 L515.8000000000001,105.60000000000001" stroke="#111" stroke-width="1.7" fill="none"/>
<line x1="155.4" x2="155.4" y1="70.8" y2="88.4" stroke="#d5d5d5"/>
<line x1="475.9" x2="475.9" y1="97.4" y2="115.6" stroke="#d5d5d5"/>
<line x1="13.9" x2="938.5" y1="62.5" y2="62.5" stroke="#d0d0d0"/>
<line x1="13.9" x2="938.5" y1="93.5" y2="93.5" stroke="#d8d8d8"/>
<line x1="13.9" x2="938.5" y1="121.4" y2="121.4" stroke="#e6e6e6" stroke-width="1.4"/>
<rect x="564.8" y="97.6" width="21.2" height="18" rx="1.5" fill="#eef4fb" stroke="#3d84d6"/>
<g fill="#1c4e8f"><rect x="569.8" y="101.8" width="11.4" height="10.2" rx="0.8"/><rect x="571.6" y="100.2" width="1.8" height="3"/><rect x="577.6" y="100.2" width="1.8" height="3"/></g>
<g stroke="#eef4fb" stroke-width="0.7"><path d="M570,105.2 H581 M570,107.6 H581 M570,109.9 H581 M572.6,105 V112 M575.5,105 V112 M578.4,105 V112"/></g>
<g stroke="#2d6cb8" stroke-width="1.3" fill="none" stroke-linejoin="round"><path d="M713.4,49.6 H708.6 Q706.8,49.6 706.8,51.4 V57.6 Q706.8,59.4 708.6,59.4 H714.6 Q716.4,59.4 716.4,57.6 V54.2"/><path d="M710.8,55.4 L716.6,47.4 L718.6,48.9 L712.8,56.8 L710.4,57.6 Z"/></g>
<circle cx="781.8" cy="53.4" r="6.2" fill="#0f2a4a"/><path d="M778.2,53.4 H785.4 M781.8,49.8 V57" stroke="#fff" stroke-width="1.9"/>
<circle cx="832.3" cy="53.2" r="6.5" fill="#fba421"/><path d="M832.3,49.2 V54.4" stroke="#fff" stroke-width="2" stroke-linecap="round"/><circle cx="832.3" cy="57.3" r="1.15" fill="#fff"/>
<polygon points="885.3,46.7 887.3,51.0 892.1,51.6 888.5,54.9 889.5,59.5 885.3,57.2 881.1,59.5 882.1,54.9 878.5,51.6 883.3,51.0" fill="none" stroke="#1a5fb4" stroke-width="1.6" stroke-linejoin="round"/>
<circle cx="930.8" cy="53.4" r="5.9" fill="none" stroke="#1a5fb4" stroke-width="1.5"/><text x="928.1" y="57.1" font-size="10.2" font-weight="700" fill="#1a5fb4">?</text>
<path d="M923.2,83 L929.2,77 M925.4,76.7 H929.6 V80.9" stroke="#12335c" stroke-width="1.5" fill="none"/>
<g><rect x="858.2" y="104.3" width="11.2" height="10.2" rx="1.2" fill="#2a6eb0"/><rect x="861.1" y="105.5" width="5.4" height="3.4" fill="#fff"/><rect x="861.1" y="110" width="5.4" height="3.4" fill="#fff"/><g fill="#fff"><rect x="859.1" y="105.4" width="1.1" height="1.4"/><rect x="859.1" y="108" width="1.1" height="1.4"/><rect x="859.1" y="110.6" width="1.1" height="1.4"/><rect x="867.4" y="105.4" width="1.1" height="1.4"/><rect x="867.4" y="108" width="1.1" height="1.4"/><rect x="867.4" y="110.6" width="1.1" height="1.4"/></g></g>
<path d="M919.2,103.1 H930.8 M919.2,107 H930.8 M919.2,110.9 H930.8" stroke="#111" stroke-width="1.8"/>
</svg>
<span class="t" id="title" style="left:203.7px;transform:translateX(-50%);top:11.39px;font-size:15.6px;font-weight:700;color:#111;letter-spacing:-0.156px">S&amp;P Info Tech Stocks Above 5-Day Average ($SKFD)</span>
<span class="t" id="last" style="left:29.7px;transform:translateX(-50%);top:30.47px;font-size:12.2px;font-weight:700;color:#111;letter-spacing:0.575px">87.50</span>
<span class="t" id="chg" style="left:103.6px;transform:translateX(-50%);top:30.47px;font-size:12.2px;font-weight:700;color:#1a7f37;letter-spacing:0.340px">+76.57 (+700.55%)</span>
<span class="t" id="dt" style="left:203.1px;transform:translateX(-50%);top:31.91px;font-size:10.5px;font-weight:400;color:#777;letter-spacing:0.212px">01/08/24 [INDEX]</span>
<span class="t" id="ic" style="left:66.0px;transform:translateX(-50%);top:48.32px;font-size:11.2px;font-weight:700;color:#111;letter-spacing:-0.729px">INTERACTIVE CHART</span>
<span class="t" id="for" style="left:175.2px;transform:translateX(-50%);top:48.71px;font-size:10.5px;font-weight:400;color:#666;letter-spacing:0.134px">for Mon, Jan 8th, 2024</span>
<span class="t" id="sym" style="left:41.6px;transform:translateX(-50%);top:74.03px;font-size:11.3px;font-weight:400;color:#222;letter-spacing:-0.655px">$SKFD</span>
<span class="t" id="go" style="left:104.3px;transform:translateX(-50%);top:74.33px;font-size:10.6px;font-weight:700;color:#fff;letter-spacing:-0.484px">GO</span>
<span class="t" id="t1" style="left:182.9px;transform:translateX(-50%);top:74.29px;font-size:11px;font-weight:400;color:#1a5fb4;letter-spacing:-0.412px">+Study</span>
<span class="t" id="t2" style="left:226.7px;transform:translateX(-50%);top:74.29px;font-size:11px;font-weight:400;color:#1a5fb4;letter-spacing:-0.397px">Tools</span>
<span class="t" id="t3" style="left:273.2px;transform:translateX(-50%);top:74.29px;font-size:11px;font-weight:400;color:#1a5fb4;letter-spacing:-0.150px">Settings</span>
<span class="t" id="t4" style="left:329.0px;transform:translateX(-50%);top:74.29px;font-size:11px;font-weight:400;color:#1a5fb4;letter-spacing:-0.225px">Compare</span>
<span class="t" id="t5" style="left:373.5px;transform:translateX(-50%);top:74.29px;font-size:11px;font-weight:400;color:#1a5fb4;letter-spacing:-0.197px">f(x)</span>
<span class="t" id="t6" style="left:422.2px;transform:translateX(-50%);top:73.29px;font-size:11px;font-weight:400;color:#1a5fb4;letter-spacing:-0.111px">Grid View</span>
<span class="t" id="t7" style="left:796.2px;transform:translateX(-50%);top:74.59px;font-size:11px;font-weight:400;color:#1a5fb4;letter-spacing:-0.130px">Templates</span>
<span class="t" id="t8" style="left:847.1px;transform:translateX(-50%);top:74.59px;font-size:11px;font-weight:400;color:#1a5fb4;letter-spacing:-0.006px">Print</span>
<span class="t" id="t9" style="left:888.4px;transform:translateX(-50%);top:74.59px;font-size:11px;font-weight:400;color:#1a5fb4;letter-spacing:-0.349px">Clear</span>
<span class="t" id="l1" style="left:689.0px;transform:translateX(-50%);top:47.99px;font-size:11px;font-weight:400;color:#1a5fb4;letter-spacing:-0.362px">Notes</span>
<span class="t" id="l2" style="left:750.0px;transform:translateX(-50%);top:47.99px;font-size:11px;font-weight:400;color:#1a5fb4;letter-spacing:-0.416px">My Charts</span>
<span class="t" id="l3" style="left:809.1px;transform:translateX(-50%);top:47.99px;font-size:11px;font-weight:400;color:#1a5fb4;letter-spacing:-0.085px">Alerts</span>
<span class="t" id="l4" style="left:861.6px;transform:translateX(-50%);top:47.99px;font-size:11px;font-weight:400;color:#1a5fb4;letter-spacing:-0.416px">Watch</span>
<span class="t" id="l5" style="left:910.8px;transform:translateX(-50%);top:47.99px;font-size:11px;font-weight:400;color:#1a5fb4;letter-spacing:-0.342px">Help</span>
<span class="t" id="r0" style="left:39.3px;transform:translateX(-50%);top:102.04px;font-size:10.7px;font-weight:700;color:#111;letter-spacing:-0.567px">Range:</span>
<span class="t" id="r1" style="left:70.8px;transform:translateX(-50%);top:102.38px;font-size:10.3px;font-weight:400;color:#222;letter-spacing:-0.872px">1D</span>
<span class="t" id="r2" style="left:91.7px;transform:translateX(-50%);top:102.38px;font-size:10.3px;font-weight:400;color:#222;letter-spacing:0.428px">5D</span>
<span class="t" id="r3" style="left:114.1px;transform:translateX(-50%);top:102.38px;font-size:10.3px;font-weight:400;color:#222;letter-spacing:0.088px">1M</span>
<span class="t" id="r4" style="left:136.3px;transform:translateX(-50%);top:102.38px;font-size:10.3px;font-weight:400;color:#222;letter-spacing:0.488px">3M</span>
<span class="t" id="r5" style="left:158.9px;transform:translateX(-50%);top:102.21px;font-size:10.5px;font-weight:700;color:#1a5fb4;letter-spacing:0.700px">6M</span>
<span class="t" id="r6" style="left:182.3px;transform:translateX(-50%);top:102.38px;font-size:10.3px;font-weight:400;color:#222;letter-spacing:0.700px">9M</span>
<span class="t" id="r7" style="left:204.0px;transform:translateX(-50%);top:102.38px;font-size:10.3px;font-weight:400;color:#222;letter-spacing:-0.209px">1Y</span>
<span class="t" id="r8" style="left:223.7px;transform:translateX(-50%);top:102.38px;font-size:10.3px;font-weight:400;color:#222;letter-spacing:-0.209px">2Y</span>
<span class="t" id="r9" style="left:243.9px;transform:translateX(-50%);top:102.38px;font-size:10.3px;font-weight:400;color:#222;letter-spacing:-1.300px">3Y</span>
<span class="t" id="r10" style="left:263.9px;transform:translateX(-50%);top:102.38px;font-size:10.3px;font-weight:400;color:#222;letter-spacing:-0.909px">5Y</span>
<span class="t" id="r11" style="left:286.9px;transform:translateX(-50%);top:102.38px;font-size:10.3px;font-weight:400;color:#222;letter-spacing:-0.614px">10Y</span>
<span class="t" id="r12" style="left:311.5px;transform:translateX(-50%);top:102.38px;font-size:10.3px;font-weight:400;color:#222;letter-spacing:-0.464px">20Y</span>
<span class="t" id="r13" style="left:338.9px;transform:translateX(-50%);top:102.38px;font-size:10.3px;font-weight:400;color:#222;letter-spacing:-0.264px">MAX</span>
<span class="t" id="fq" style="left:390.8px;transform:translateX(-50%);top:102.04px;font-size:10.7px;font-weight:700;color:#111;letter-spacing:-0.190px">Frequency:</span>
<span class="t" id="dl" style="left:436.6px;transform:translateX(-50%);top:101.81px;font-size:10.5px;font-weight:400;color:#222;letter-spacing:0.039px">Daily</span>
<span class="t" id="p6" style="left:491.8px;transform:translateX(-50%);top:101.81px;font-size:10.5px;font-weight:400;color:#222;letter-spacing:0.700px">6M</span>
<span class="t" id="da" style="left:545.7px;transform:translateX(-50%);top:102.04px;font-size:10.7px;font-weight:700;color:#111;letter-spacing:0.091px">Date:</span>
<span class="t" id="tu" style="left:891.5px;transform:translateX(-50%);top:103.48px;font-size:11.6px;font-weight:700;color:#1a5896;letter-spacing:0.186px">tutorial</span>
</body></html>
